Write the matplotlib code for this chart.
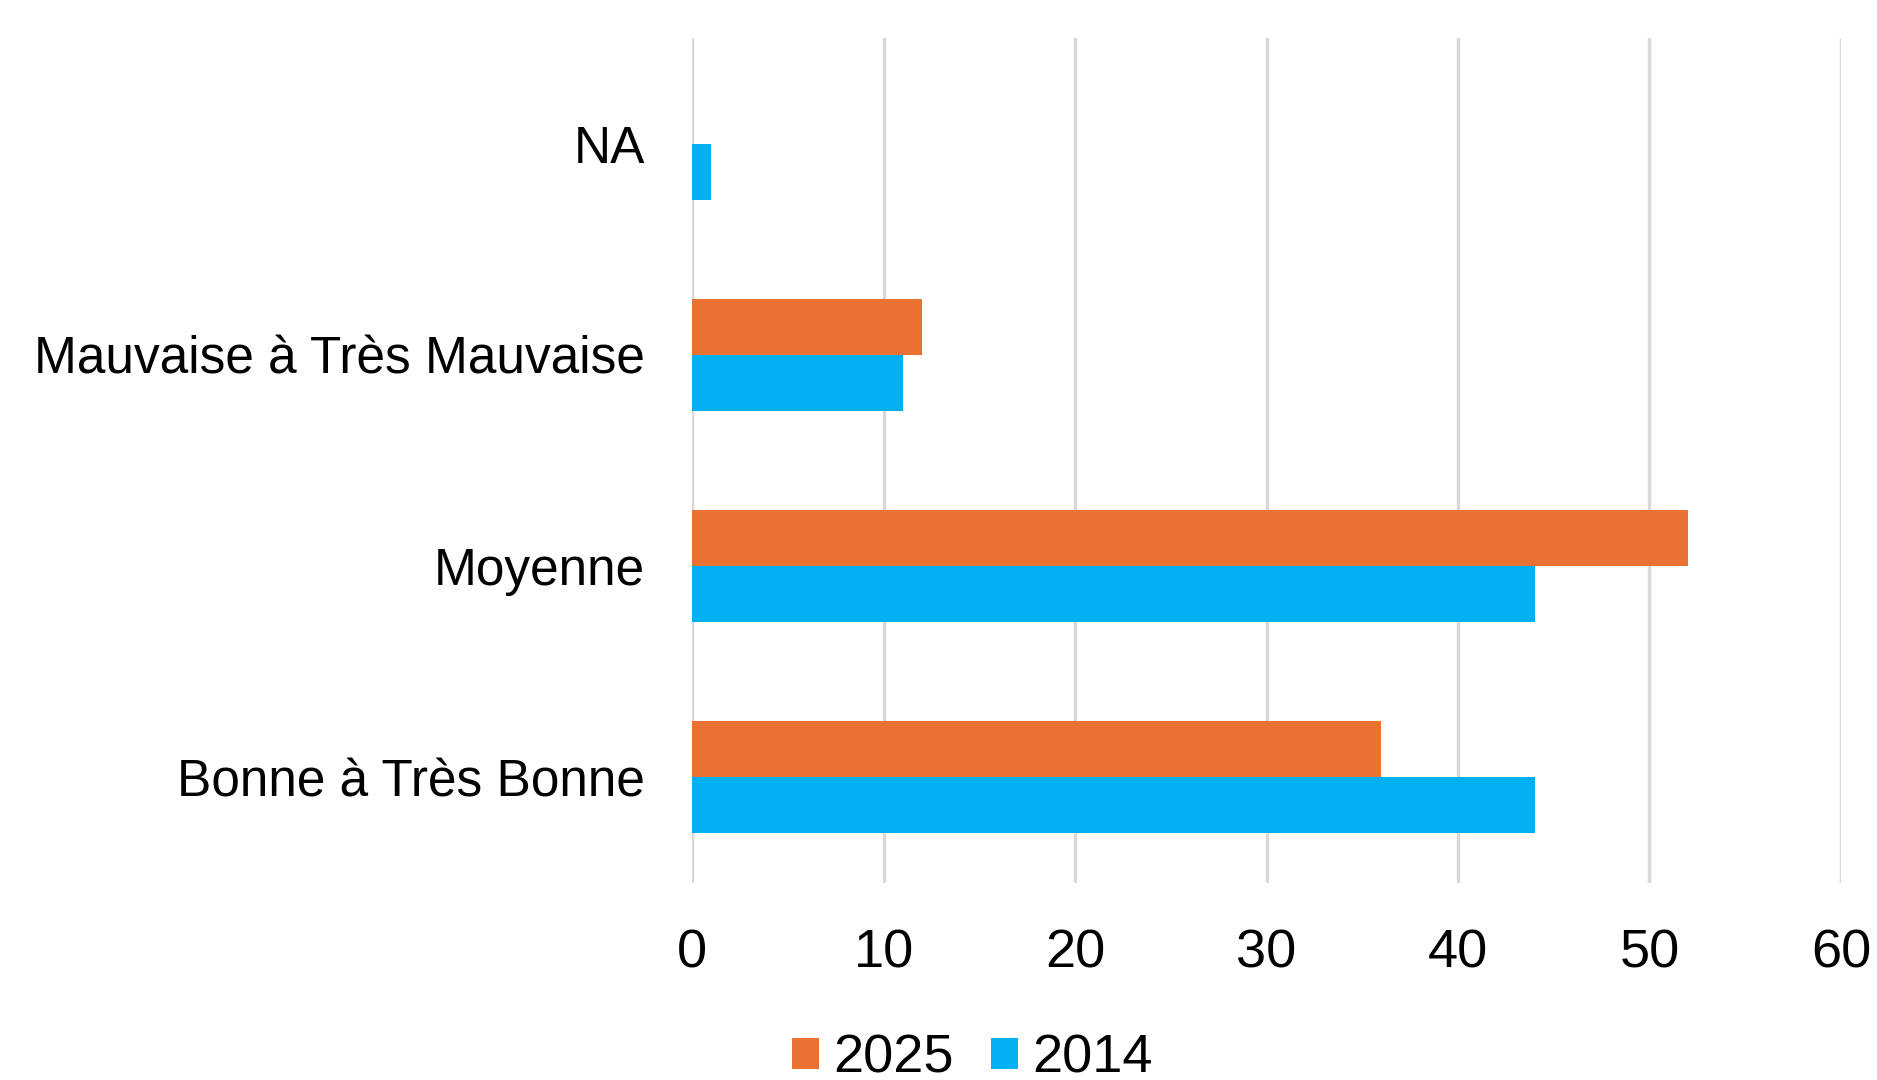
import matplotlib.pyplot as plt
import numpy as np

plt.rcParams['font.family'] = ['Liberation Sans', 'DejaVu Sans']

categories = ["Bonne à Très Bonne", "Moyenne", "Mauvaise à Très Mauvaise", "NA"]
values_2025 = [36, 52, 12, 0]
values_2014 = [44, 44, 11, 1]
xticks = [0, 10, 20, 30, 40, 50, 60]

col_2025 = '#E97132'
col_2014 = '#00B0F0'

fig = plt.figure(figsize=(18.77, 10.8), dpi=100)
ax = fig.add_axes([0.3687, 0.1824, 0.6121, 0.7824])

y = np.arange(len(categories))
h = 0.265
ax.barh(y + h / 2, values_2025, height=h, color=col_2025, label='2025', zorder=3)
ax.barh(y - h / 2, values_2014, height=h, color=col_2014, label='2014', zorder=3)

ax.set_xlim(0, 60)
ax.set_ylim(-0.5, len(categories) - 0.5)
ax.set_xticks(xticks)
ax.set_yticks(y)
ax.set_yticklabels(categories)
ax.tick_params(axis='x', length=0, pad=33, labelsize=39)
ax.tick_params(axis='y', length=0, pad=34, labelsize=37)
ax.xaxis.grid(True, color='#d9d9d9', linewidth=2.5, zorder=0)
for s in ax.spines.values():
    s.set_visible(False)

leg = fig.legend(loc='center', bbox_to_anchor=(0.518, 0.02), ncol=2, frameon=False,
                 fontsize=39, handlelength=0.5, handleheight=0.5, handletextpad=0.25,
                 columnspacing=0.7, borderaxespad=0)

fig.savefig('out.png', dpi=100)
